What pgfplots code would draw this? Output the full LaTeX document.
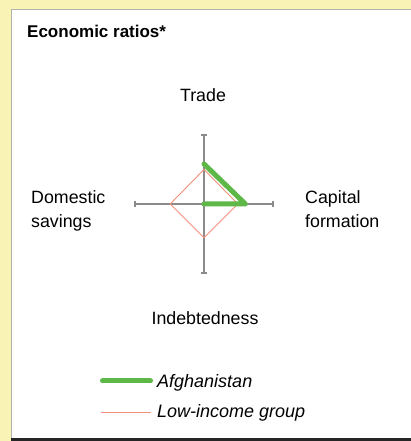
\documentclass[border=0pt]{standalone}
\usepackage{fontspec}
\setmainfont{Liberation Sans}
\usepackage{pgfplots}
\pgfplotsset{compat=1.18}

\definecolor{panelbg}{HTML}{FAF3B6}
\definecolor{afgreen}{HTML}{5DB847}
\definecolor{lowred}{HTML}{F2907C}
\definecolor{axgray}{HTML}{8A8A8A}

\begin{document}
\begin{tikzpicture}[x=1pt,y=1pt, every node/.style={inner sep=0pt}]
\useasboundingbox (0,0) rectangle (411,441);
\fill[panelbg] (0,0) rectangle (411,441);
\fill[white] (11,2) rectangle (412,431);
\draw[gray!60, line width=1pt] (11,2) -- (11,431) -- (412,431);
\fill[black!85] (11,0) rectangle (411,2.5);

\node[anchor=base west, font=\bfseries\fontsize{17}{19}\selectfont] at (27,403) {Economic ratios*};

\begin{axis}[
  at={(135pt,168pt)}, anchor=south west,
  scale only axis, width=138pt, height=138pt,
  xmin=-1, xmax=1, ymin=-1, ymax=1,
  hide axis, clip=false,
]
% spokes with end caps
\addplot[axgray, line width=1.1pt, mark=|, mark size=3pt,
  mark options={solid, line width=1.1pt}] coordinates {(-1,0) (1,0)};
\addplot[axgray, line width=1.1pt, mark=-, mark size=3pt,
  mark options={solid, line width=1.1pt}] coordinates {(0,-1) (0,1)};
% low-income group
\addplot[lowred, line width=0.9pt, no marks] coordinates {
  (0,0.5) (0.49,0) (0,-0.49) (-0.49,0) (0,0.5)};
% Afghanistan
\addplot[afgreen, line width=5pt, line cap=round, line join=round, no marks]
  coordinates {(0,0.58) (0.6,0) (0,0)};
\end{axis}

\begin{scope}[font=\fontsize{17.8}{21}\selectfont]
\node[anchor=base] at (203,339) {Trade};
\node[anchor=base west] at (305,237) {Capital};
\node[anchor=base west] at (305,213) {formation};
\node[anchor=base west] at (31,237) {Domestic};
\node[anchor=base west] at (31,213) {savings};
\node[anchor=base] at (205,116) {Indebtedness};
\end{scope}

% legend
\draw[afgreen, line width=5pt, line cap=round] (102.5,60) -- (150.5,60);
\draw[lowred, line width=1pt] (101,28) -- (151,28);
\node[anchor=base west, font=\itshape\fontsize{18}{21}\selectfont] at (157,53) {Afghanistan};
\node[anchor=base west, font=\itshape\fontsize{18}{21}\selectfont] at (157,23) {Low-income group};
\end{tikzpicture}
\end{document}
